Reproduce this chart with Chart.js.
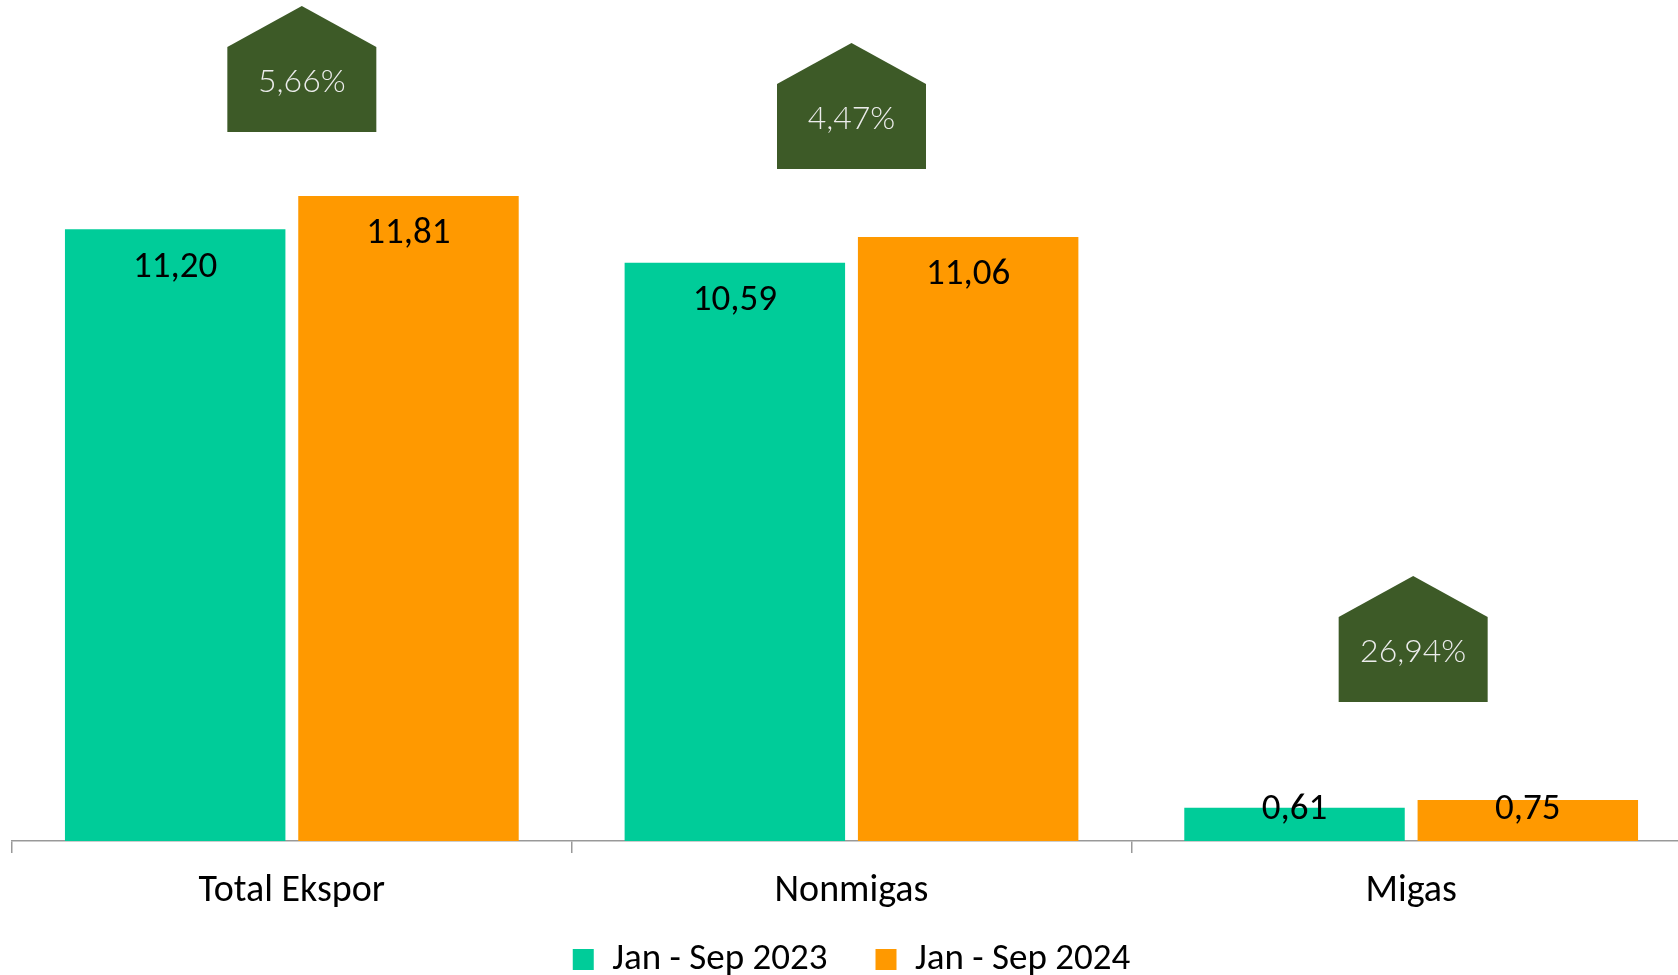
<!DOCTYPE html>
<html>
<head>
<meta charset="utf-8">
<script src="https://cdn.jsdelivr.net/npm/chart.js@4.4.1/dist/chart.umd.min.js"></script>
<style>
  html, body { margin: 0; padding: 0; background: #ffffff; overflow: hidden; }
  #wrap { width: 1700px; height: 988px; position: relative; }
</style>
</head>
<body>
<div id="wrap"><canvas id="c"></canvas></div>
<script>
// ---- data ----
const categories = ["Total Ekspor", "Nonmigas", "Migas"];
const seriesNames = ["Jan - Sep 2023", "Jan - Sep 2024"];
const values2023 = [11.20, 10.59, 0.61];
const values2024 = [11.81, 11.06, 0.75];
const growthPct = [5.66, 4.47, 26.94];

const FONT = "Carlito, Lato, 'Open Sans', sans-serif";
const LIGHT_FONT = "'Lato Light', Lato, 'Open Sans', sans-serif";
const fmt = v => v.toFixed(2).replace('.', ',');

// value labels inside top of bars
const valueLabels = {
  id: 'valueLabels',
  afterDatasetsDraw(chart) {
    const ctx = chart.ctx;
    const base = chart.scales.y.getPixelForValue(0);
    ctx.save();
    ctx.font = "37px " + FONT;
    ctx.fillStyle = "#000000";
    ctx.textAlign = "center";
    ctx.textBaseline = "middle";
    chart.data.datasets.forEach((ds, di) => {
      chart.getDatasetMeta(di).data.forEach((bar, i) => {
        const y = Math.min(bar.y + 38, base - 31);
        ctx.fillText(fmt(ds.data[i]), bar.x, y);
      });
    });
    ctx.restore();
  }
};

// growth badges (house-shaped)
const growthBadges = {
  id: 'growthBadges',
  afterDatasetsDraw(chart, args, opts) {
    const ctx = chart.ctx;
    const meta = chart.getDatasetMeta(1);
    const xs = chart.scales.x;
    const w = 149, rectH = 85, roofH = 41;
    ctx.save();
    growthPct.forEach((g, i) => {
      const cx = xs.getPixelForValue(i) + opts.dx[i];
      const yb = meta.data[i].y - opts.gap[i];
      const x0 = cx - w / 2, x1 = cx + w / 2;
      ctx.beginPath();
      ctx.moveTo(x0, yb);
      ctx.lineTo(x1, yb);
      ctx.lineTo(x1, yb - rectH);
      ctx.lineTo(cx, yb - rectH - roofH);
      ctx.lineTo(x0, yb - rectH);
      ctx.closePath();
      ctx.fillStyle = "#3D5A27";
      ctx.fill();
      ctx.font = "300 32px " + LIGHT_FONT;
      ctx.fillStyle = "#ECECEC";
      ctx.textAlign = "center";
      ctx.textBaseline = "middle";
      ctx.fillText(fmt(g) + "%", cx, yb - 50);
    });
    ctx.restore();
  }
};

new Chart(document.getElementById('c'), {
  type: 'bar',
  data: {
    labels: categories,
    datasets: [
      { label: seriesNames[0], data: values2023, backgroundColor: "#00CC99", borderWidth: 0 },
      { label: seriesNames[1], data: values2024, backgroundColor: "#FF9900", borderWidth: 0 }
    ]
  },
  options: {
    responsive: true,
    maintainAspectRatio: false,
    animation: false,
    datasets: { bar: { categoryPercentage: 0.8337, barPercentage: 0.945 } },
    layout: { padding: { left: 12, right: 9, top: 0, bottom: 0 } },
    scales: {
      x: {
        grid: { display: true, offset: true, drawOnChartArea: false, drawTicks: true, tickLength: 12, color: "#999999", lineWidth: 1.5 },
        border: { display: true, color: "#999999", width: 1.5 },
        ticks: { color: "#000000", font: { family: FONT, size: 38, lineHeight: 0.5 }, padding: 29, maxRotation: 0 }
      },
      y: { display: false, min: 0, max: 15.4 }
    },
    plugins: {
      legend: {
        position: 'bottom',
        labels: {
          color: "#000000", boxWidth: 21, boxHeight: 21, padding: 11,
          font: { family: FONT, size: 37, lineHeight: 1 },
          generateLabels(chart) {
            const items = Chart.defaults.plugins.legend.labels.generateLabels(chart);
            return items.map((it, i) => i < items.length - 1 ? Object.assign(it, { text: it.text + "\u2003" }) : it);
          }
        }
      },
      tooltip: { enabled: false },
      growthBadges: { dx: [10, 0, 2], gap: [64, 68, 98] }
    }
  },
  plugins: [valueLabels, growthBadges]
});
</script>
</body>
</html>
